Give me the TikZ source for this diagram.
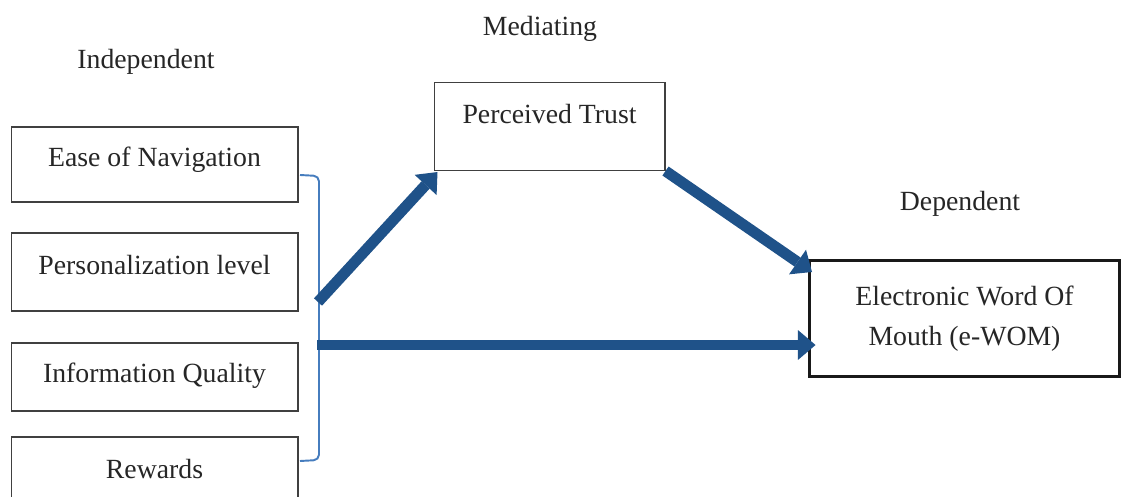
\documentclass[tikz,border=0pt]{standalone}
\usepackage{fontspec}
\setmainfont{Liberation Serif}
\usepackage{tikz}
\usetikzlibrary{
  arrows.meta,
  calc,
  positioning
}
\definecolor{arrowblue}{RGB}{31,82,137}
\definecolor{bracketblue}{RGB}{70,125,190}
\tikzset{
  varbox/.style={
    draw=black!75,
    line width=0.6pt,
    minimum width=5.74cm,
    text=black!85,
    text height=0.66em,
    text depth=#1},
  heading/.style={
    text=black!85,
    text height=0.66em,
    text depth=0pt},
  flow/.style={
    draw=arrowblue,
    fill=arrowblue,
    line width=6.2pt},
  headed/.style={
    -{Triangle[width=17pt,length=10pt,line width=0pt]}},
  bracket/.style={
    draw=bracketblue,
    line width=1.1pt,
    rounded corners=3pt}
  }

\begin{document}
\begin{tikzpicture}[x=0.02cm, y=-0.02cm, font=\fontsize{15.8}{23}\selectfont]
    \useasboundingbox (0,0) rectangle (1123,497);
    % headings
    \node[heading] (indep) at (146,63) {Independent};
    \node[heading] (medi) at (540,30) {Mediating};
    \node[heading] (dep) at (960,205) {Dependent};
    % independent variables
    \node[varbox=0.41em, minimum height=1.5cm] (nav) at (154.5,164.5) {Ease of Navigation};
    \node[varbox=0.41em, minimum height=1.56cm] (pers) at (154.5,272) {Personalization level};
    \node[varbox=0em, minimum height=1.36cm] (info) at (154.5,377) {Information Quality};
    \node[varbox=0.26em, minimum height=1.52cm] (rew) at (154.5,475) {Rewards};
    % mediating and dependent
    \node[varbox=0.95em, minimum width=4.62cm, minimum height=1.76cm] (trust) at (549.5,126.5) {Perceived Trust};
    \node[draw=black!90, line width=1.7pt, minimum width=6.22cm, minimum height=2.34cm,
      align=center, text=black!85] (ewom) at (964.5,318.5) {Electronic Word Of\\Mouth (e-WOM)};
    % bracket
    \draw [bracket] (300,175) -- (319,176) -- (319,460) -- (300,461);
    \coordinate (fork1) at (318,302);
    \coordinate (fork2) at (317,345);
    \coordinate (ewomin) at (812,272);
    \draw [flow]
    (fork1) edge[headed] ($(trust.south west)+(4,1)$)
    (trust.south east) edge[headed] (ewomin)
    (fork2) edge[headed] ($(fork2 -| ewom.west)+(8,0)$);
  \end{tikzpicture}
\end{document}
